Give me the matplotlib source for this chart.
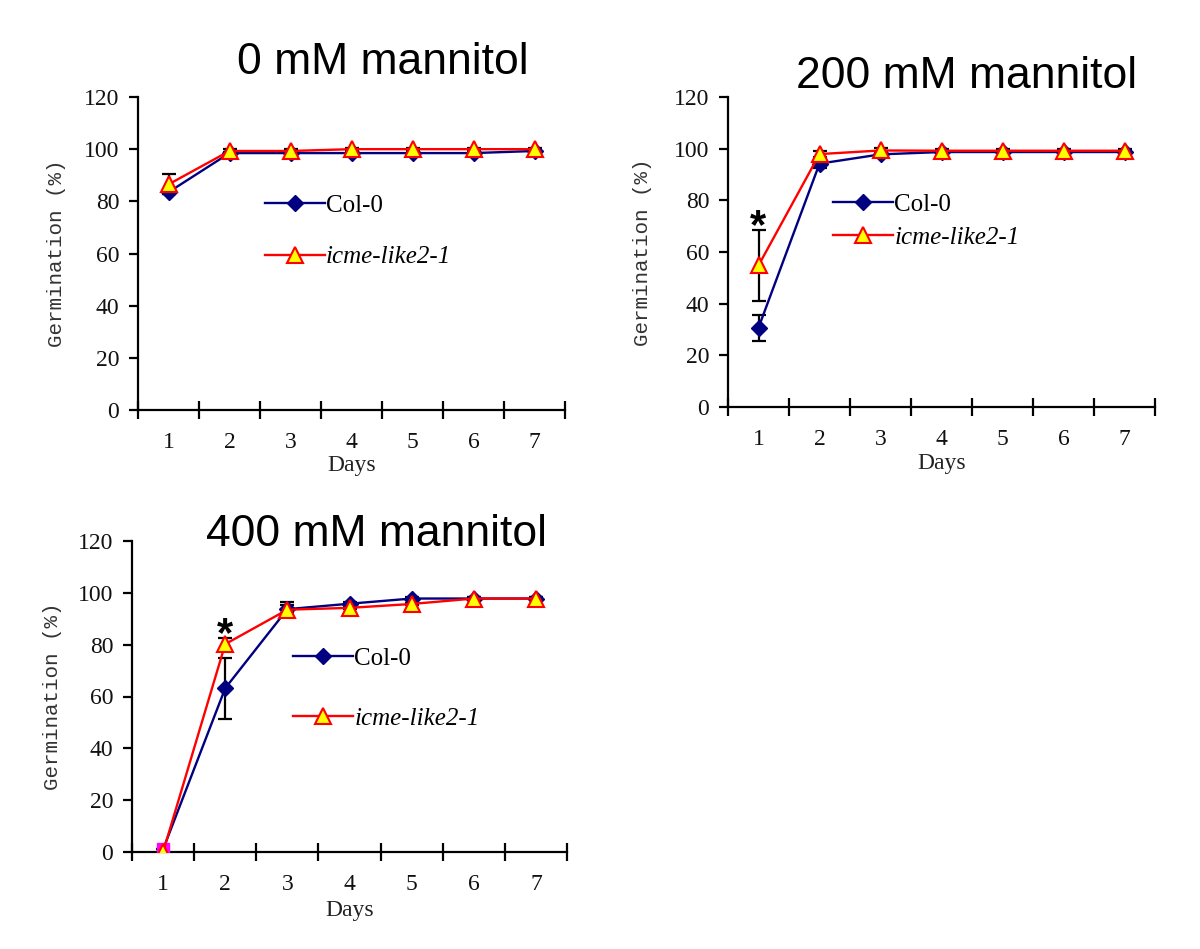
import matplotlib
matplotlib.use("Agg")
import matplotlib.pyplot as plt
import numpy as np

# germination (%) per day
days = [1, 2, 3, 4, 5, 6, 7]

col_0 = [83.5, 98.5, 98.5, 98.5, 98.5, 98.5, 99.3]
col_0_err = [0.8, 0.5, 0.5, 0.5, 0.5, 0.5, 0.5]
icme_0 = [86.5, 99.3, 99.3, 100, 100, 100, 100]
icme_0_err = [3.8, 0.7, 0.7, 0.3, 0.3, 0.3, 0.3]

col_200 = [30.7, 94.2, 97.8, 98.7, 98.7, 98.7, 98.7]
col_200_err = [5.0, 1.5, 0.8, 0.5, 0.5, 0.5, 0.5]
icme_200 = [54.8, 97.9, 99.3, 99.2, 99.2, 99.2, 99.2]
icme_200_err = [13.7, 1.2, 1.0, 0.5, 0.5, 0.5, 0.5]

col_400 = [1, 63.2, 93.7, 95.8, 97.8, 97.8, 97.8]
col_400_err = [0, 11.7, 1.5, 0.5, 0.5, 0.5, 0.5]
icme_400 = [0, 80.2, 93.5, 94.2, 95.7, 97.8, 97.8]
icme_400_err = [0, 2.2, 2.8, 0.5, 0.5, 0.5, 0.5]

titles = ["0 mM mannitol", "200 mM mannitol", "400 mM mannitol"]
yticks = [0, 20, 40, 60, 80, 100, 120]

NAVY = "#000080"
RED = "#FF0000"
YEL = "#FFFF00"

W, H = 1200, 949
fig = plt.figure(figsize=(W / 100, H / 100), dpi=100)


def px_axes(x0, x1, y_top, y_bot):
    return fig.add_axes([x0 / W, 1 - y_bot / H, (x1 - x0) / W, (y_bot - y_top) / H])


def draw_panel(ax, col, col_err, icme, icme_err, leg_xy, leg_space,
               ylab_x, xlab_y, stars=(), magenta_first=False):
    ax.errorbar(days, col, yerr=col_err, fmt="none", ecolor="black",
                elinewidth=1.6, capsize=5, capthick=1.6, zorder=2)
    ax.errorbar(days, icme, yerr=icme_err, fmt="none", ecolor="black",
                elinewidth=1.6, capsize=5, capthick=1.6, zorder=2)
    if magenta_first:
        ax.plot(days, col, color=NAVY, lw=1.7, marker="D", ms=8,
                mfc=NAVY, mec=NAVY, markevery=slice(1, None), zorder=3,
                label="Col-0")
        ax.plot(days[:1], col[:1], "s", ms=9, mfc="#FF00FF", mec="#FF00FF",
                zorder=3)
    else:
        ax.plot(days, col, color=NAVY, lw=1.7, marker="D", ms=8,
                mfc=NAVY, mec=NAVY, zorder=3, label="Col-0")
    ax.plot(days, icme, color=RED, lw=1.7, marker="^", ms=11,
            mfc=YEL, mec=RED, mew=1.5, zorder=4, label="icme-like2-1")

    for i in stars:
        top = icme[i] + icme_err[i]
        ax.annotate("*", xy=(days[i], top), xytext=(0, -12),
                    textcoords="offset points", ha="center", va="bottom",
                    fontsize=30, fontweight="bold", family="Liberation Sans",
                    color="black")

    ax.set_xlim(0.5, 7.5)
    ax.set_ylim(0, 120)
    for s in ("top", "right"):
        ax.spines[s].set_visible(False)
    for s in ("left", "bottom"):
        ax.spines[s].set_linewidth(1.6)

    ax.set_yticks(yticks)
    ax.set_yticklabels([str(v) for v in yticks], family="Liberation Serif",
                       fontsize=17, color="#111111")
    ax.tick_params(axis="y", direction="out", length=6.5, width=1.6, pad=7)

    ax.set_xticks(np.arange(0.5, 8, 1))
    ax.set_xticklabels([])
    ax.tick_params(axis="x", which="major", direction="inout", length=13,
                   width=1.6)
    ax.set_xticks(days, minor=True)
    ax.set_xticklabels([str(d) for d in days], minor=True,
                       family="Liberation Serif", fontsize=17, color="#111111")
    ax.tick_params(axis="x", which="minor", length=0, pad=16)

    ax.set_ylabel("Germination (%)", family="Liberation Mono", fontsize=15,
                  color="#333333")
    ax.yaxis.set_label_coords(ylab_x, 0.5)
    ax.set_xlabel("Days", family="Liberation Serif", fontsize=17,
                  color="#222222")
    ax.xaxis.set_label_coords(0.5, xlab_y)

    leg = ax.legend(loc="center left", bbox_to_anchor=leg_xy, frameon=False,
                    handlelength=2.4, handletextpad=0.05, borderpad=0,
                    borderaxespad=0, labelspacing=leg_space,
                    prop={"family": "Liberation Serif", "size": 18})
    leg.get_texts()[1].set_fontstyle("italic")


ax1 = px_axes(138, 565, 97, 410)
draw_panel(ax1, col_0, col_0_err, icme_0, icme_0_err, (0.297, 0.57), 1.15,
           -0.169, -0.145)

ax2 = px_axes(728, 1155, 97, 407)
draw_panel(ax2, col_200, col_200_err, icme_200, icme_200_err, (0.246, 0.6),
           0.42, -0.178, -0.15, stars=[0])

ax3 = px_axes(132, 567, 541, 852)
draw_panel(ax3, col_400, col_400_err, icme_400, icme_400_err, (0.37, 0.525),
           1.5, -0.161, -0.155, stars=[1], magenta_first=True)

title_pos = [(383, 63), (967, 77), (377, 535)]
for t, (x, y) in zip(titles, title_pos):
    fig.text(x / W, 1 - y / H, t, ha="center", va="center",
             family="Liberation Sans", fontsize=32)

fig.savefig("out.png", dpi=100)
